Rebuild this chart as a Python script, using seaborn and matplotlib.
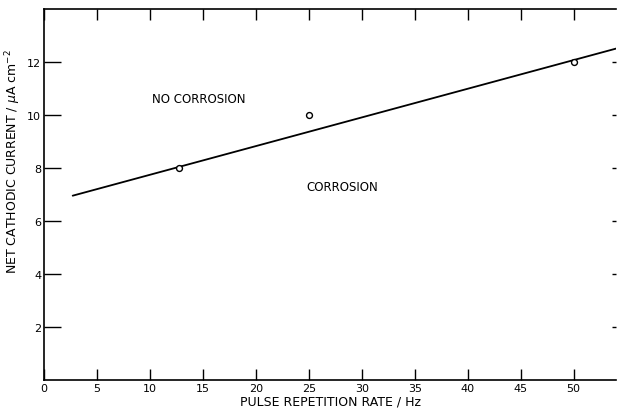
import matplotlib
matplotlib.use('Agg')
import matplotlib.pyplot as plt
import seaborn as sns
import pandas as pd

# measured points
rate_hz = [12.7, 25.0, 50.0]
current = [8.0, 10.0, 12.0]

# boundary line drawn by hand through the points
line_hz = [2.7, 54.0]
line_current = [6.95, 12.5]

x_ticks = [0, 5, 10, 15, 20, 25, 30, 35, 40, 45, 50]
y_ticks = [2, 4, 6, 8, 10, 12]

sns.set_style('ticks')
plt.rcParams['font.family'] = ['DejaVu Sans']
plt.rcParams['text.color'] = 'black'
plt.rcParams['axes.labelcolor'] = 'black'
plt.rcParams['xtick.color'] = 'black'
plt.rcParams['ytick.color'] = 'black'

pts = pd.DataFrame({'rate': rate_hz, 'current': current})
fit = pd.DataFrame({'rate': line_hz, 'current': line_current})

fig = plt.figure(figsize=(6.21, 4.10), dpi=100)
ax = fig.add_axes([0.071, 0.071, 0.921, 0.905])

sns.lineplot(data=fit, x='rate', y='current', ax=ax, color='black', linewidth=1.3)
sns.scatterplot(data=pts, x='rate', y='current', ax=ax, marker='o', s=18,
                facecolor='white', edgecolor='black', linewidth=1.0, zorder=3)

ax.set_xlim(0, 54)
ax.set_ylim(0, 14)
ax.set_xticks(x_ticks)
ax.set_yticks(y_ticks)
ax.tick_params(direction='in', width=1.0, labelsize=8, pad=2,
               top=True, right=True)
ax.tick_params(axis='x', length=8)
ax.tick_params(axis='y', length=12)
# right-hand ticks are only short stubs
for t in ax.yaxis.get_major_ticks():
    t.tick2line.set_markersize(3)

for side in ['left', 'bottom', 'top']:
    ax.spines[side].set_linewidth(1.2)
    ax.spines[side].set_color('black')
ax.spines['right'].set_visible(False)

ax.text(10.2, 10.6, 'NO CORROSION', fontsize=8.5, va='center')
ax.text(24.8, 7.3, 'CORROSION', fontsize=8.5, va='center')

ax.set_xlabel('PULSE REPETITION RATE / Hz', fontsize=9, labelpad=1)
ax.set_ylabel(r'NET CATHODIC CURRENT / $\mu$A cm$^{-2}$', fontsize=9)
ax.yaxis.set_label_coords(-0.037, 0.59)

fig.savefig('out.png', dpi=100)
